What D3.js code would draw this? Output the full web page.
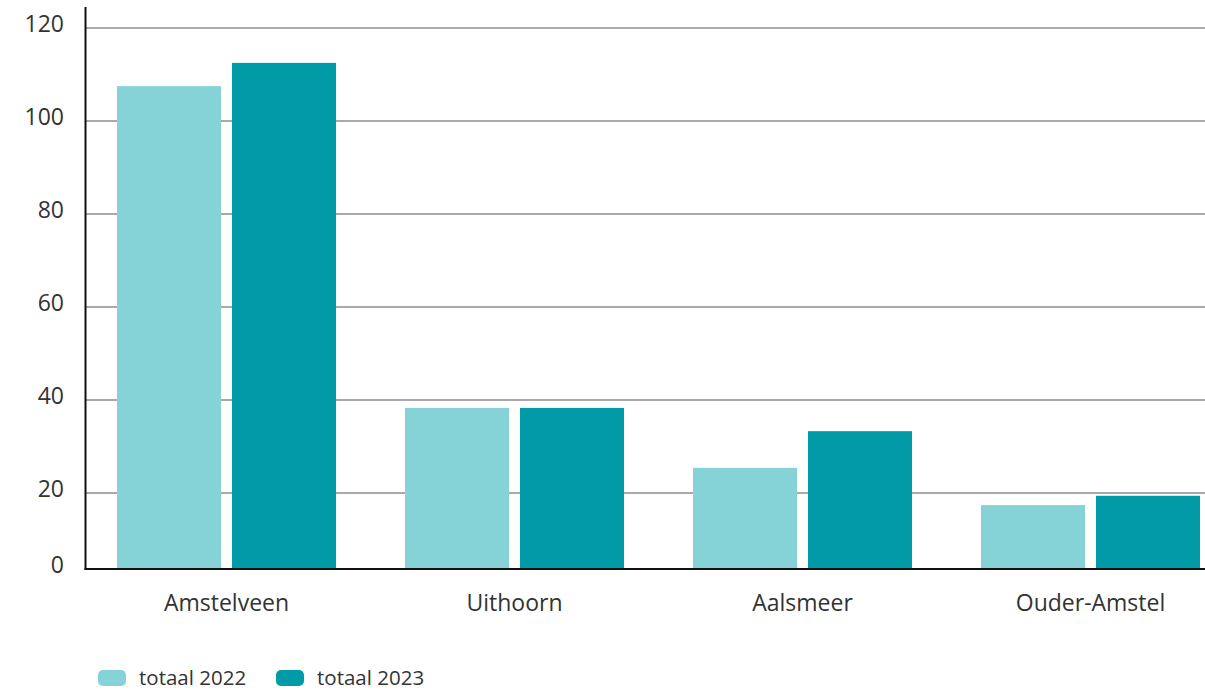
<!DOCTYPE html>
<html><head><meta charset="utf-8">
<script src="https://cdn.jsdelivr.net/npm/d3@7"></script>
<style>body{margin:0;background:#fff}svg{display:block;font-family:"Open Sans",sans-serif}</style>
</head><body><svg id="c" width="1205" height="690"></svg>
<script>
const categories = ["Amstelveen", "Uithoorn", "Aalsmeer", "Ouder-Amstel"];
const seriesNames = ["totaal 2022", "totaal 2023"];
const values2022 = [107.5, 38.3, 25.4, 17.4];
const values2023 = [112.5, 38.3, 33.3, 19.4];
const yTicks = [0, 20, 40, 60, 80, 100, 120];
const colors = ["#85d3d6", "#009ba6"];

const series = [values2022, values2023];
const svg = d3.select("#c");
const axisX = 86, baseY = 569, right = 1205;
const y = d3.scaleLinear().domain([0, 120]).range([586, 28]);
const x0 = d3.scaleBand().domain(categories).range([82.5, 82.5 + 288 * categories.length]);
const x1 = d3.scaleBand().domain(seriesNames).range([34.5, 253.5]).paddingInner(11 / 115);

// gridlines
svg.append("g").selectAll("line").data(yTicks.filter(d => d > 0)).join("line")
  .attr("x1", axisX).attr("x2", right).attr("y1", d => y(d)).attr("y2", d => y(d))
  .attr("stroke", "#555").attr("stroke-width", 1.2);

// bars
const groups = svg.append("g").selectAll("g").data(categories).join("g")
  .attr("transform", c => `translate(${x0(c)},0)`);
groups.selectAll("rect").data((c, i) => seriesNames.map((s, j) => ({ s, j, v: series[j][i] }))).join("rect")
  .attr("x", d => x1(d.s)).attr("width", x1.bandwidth())
  .attr("y", d => y(d.v)).attr("height", d => baseY - y(d.v))
  .attr("fill", d => colors[d.j]);

// axes lines
svg.append("line").attr("x1", axisX - 0.5).attr("x2", axisX - 0.5).attr("y1", 7).attr("y2", baseY + 1)
  .attr("stroke", "#111").attr("stroke-width", 2);
svg.append("line").attr("x1", axisX - 1.5).attr("x2", right).attr("y1", baseY).attr("y2", baseY)
  .attr("stroke", "#111").attr("stroke-width", 2);

// y labels
svg.append("g").selectAll("text").data(yTicks).join("text")
  .attr("x", 64).attr("y", d => (d === 0 ? baseY : y(d)) + 4)
  .attr("text-anchor", "end").attr("font-size", 23).attr("fill", "#333")
  .text(d => d);

// x labels
svg.append("g").selectAll("text").data(categories).join("text")
  .attr("x", c => x0(c) + x0.bandwidth() / 2).attr("y", 611)
  .attr("text-anchor", "middle").attr("font-size", 23).attr("fill", "#333")
  .text(c => c);

// legend
const legX = [98, 276];
const leg = svg.append("g").selectAll("g").data(seriesNames).join("g")
  .attr("transform", (d, i) => `translate(${legX[i]},670)`);
leg.append("rect").attr("width", 28).attr("height", 16).attr("rx", 5).attr("fill", (d, i) => colors[i]);
leg.append("text").attr("x", 41).attr("y", 15).attr("font-size", 20.5).attr("fill", "#333").text(d => d);
</script></body></html>
